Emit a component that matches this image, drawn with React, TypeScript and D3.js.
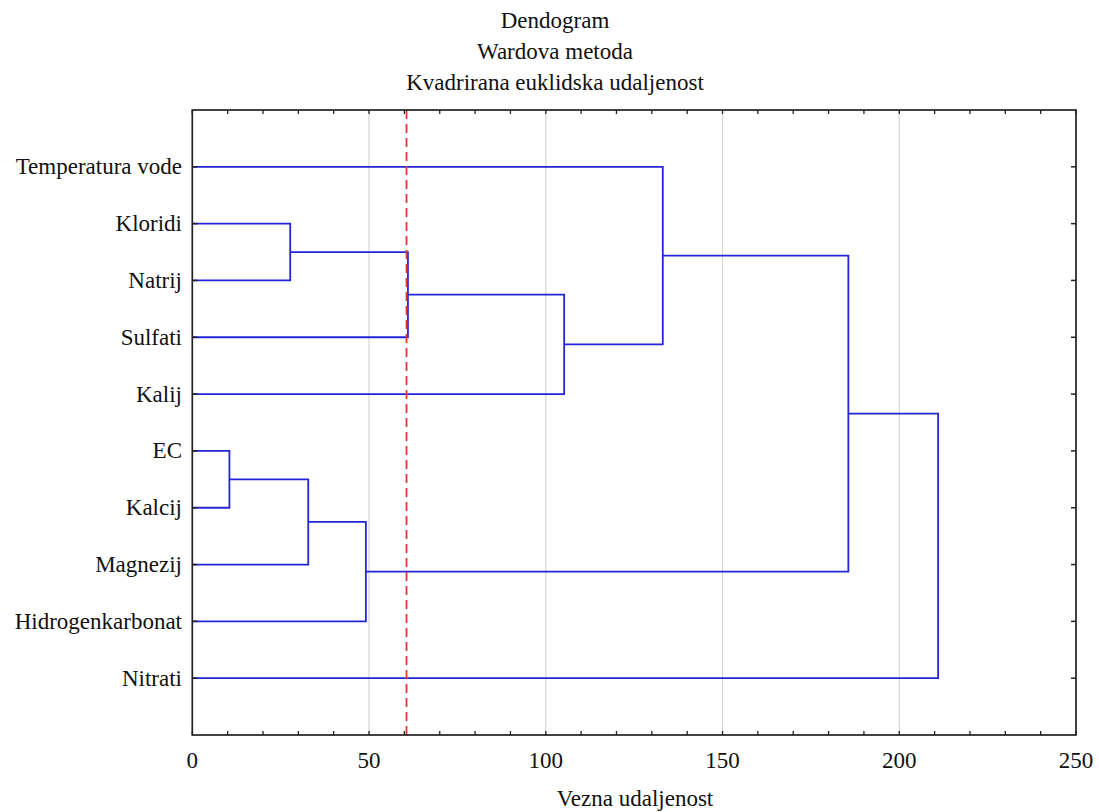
import React from "react";
import * as d3 from "d3";

const titleLines = ["Dendogram", "Wardova metoda", "Kvadrirana euklidska udaljenost"];
const xAxisTitle = "Vezna udaljenost";
const leaves = [
  "Temperatura vode",
  "Kloridi",
  "Natrij",
  "Sulfati",
  "Kalij",
  "EC",
  "Kalcij",
  "Magnezij",
  "Hidrogenkarbonat",
  "Nitrati",
];
// merges: [childA, childB, height]; ids < 10 are leaves, id 10+k is merge k
const mergeA = [1, 10, 11, 0, 5, 14, 15, 13, 17];
const mergeB = [2, 3, 4, 12, 6, 7, 8, 16, 9];
const mergeHeight = [27.7, 61.0, 105.2, 133.1, 10.5, 32.8, 49.1, 185.6, 211.0];
const cutoff = 60.6;
const xTicks = [0, 50, 100, 150, 200, 250];
const gridTicks = [50, 100, 150, 200];

const W = 1099;
const H = 812;
const left = 192.3;
const right = 1076;
const top = 110;
const bottom = 735;

export default function App() {
  const x = d3.scaleLinear().domain([0, 250]).range([left, right]);
  const y = d3.scalePoint<string>().domain(leaves).range([top, bottom]).padding(1);

  const nodeY: number[] = leaves.map((l) => y(l) as number);
  const nodeH: number[] = leaves.map(() => 0);
  const paths: string[] = [];
  mergeA.forEach((a, i) => {
    const b = mergeB[i];
    const h = mergeHeight[i];
    const ya = nodeY[a];
    const yb = nodeY[b];
    const p = d3.path();
    p.moveTo(x(nodeH[a]), ya);
    p.lineTo(x(h), ya);
    p.lineTo(x(h), yb);
    p.lineTo(x(nodeH[b]), yb);
    paths.push(p.toString());
    nodeY.push((ya + yb) / 2);
    nodeH.push(h);
  });

  const minor = d3.range(0, 251, 10);
  const font = "'Liberation Serif', 'Times New Roman', serif";
  const fs = 23;

  return (
    <svg width={W} height={H} style={{ position: "absolute", left: 0, top: 0, background: "#fff" }} fontFamily={font}>
      <rect x={0} y={0} width={W} height={H} fill="#fff" />
      {titleLines.map((t, i) => (
        <text key={t} x={555} y={28 + i * 31} textAnchor="middle" fontSize={fs} fill="#111">
          {t}
        </text>
      ))}
      {gridTicks.map((g) => (
        <line key={g} x1={x(g)} x2={x(g)} y1={top} y2={bottom} stroke="#d6d6d6" strokeWidth={1.2} />
      ))}
      {paths.map((d, i) => (
        <path key={i} d={d} fill="none" stroke="#2424d8" strokeWidth={1.8} />
      ))}
      <line x1={x(cutoff)} x2={x(cutoff)} y1={top} y2={bottom} stroke="#e23a3a" strokeWidth={1.8} strokeDasharray="9,5" />
      <rect x={left} y={top} width={right - left} height={bottom - top} fill="none" stroke="#222" strokeWidth={1.7} />
      {minor.map((t) => (
        <g key={t}>
          <line x1={x(t)} x2={x(t)} y1={bottom} y2={bottom - 4} stroke="#222" strokeWidth={1.3} />
          <line x1={x(t)} x2={x(t)} y1={top} y2={top + 4} stroke="#222" strokeWidth={1.3} />
        </g>
      ))}
      {leaves.map((l) => (
        <g key={l}>
          <line x1={left} x2={left + 5} y1={y(l)} y2={y(l)} stroke="#222" strokeWidth={1.5} />
          <line x1={right} x2={right - 5} y1={y(l)} y2={y(l)} stroke="#222" strokeWidth={1.5} />
          <text x={182} y={(y(l) as number) + 7.5} textAnchor="end" fontSize={fs} fill="#111">
            {l}
          </text>
        </g>
      ))}
      {xTicks.map((t) => (
        <text key={t} x={x(t)} y={768} textAnchor="middle" fontSize={fs} fill="#111">
          {t}
        </text>
      ))}
      <text x={635} y={806} textAnchor="middle" fontSize={fs} fill="#111">
        {xAxisTitle}
      </text>
    </svg>
  );
}
